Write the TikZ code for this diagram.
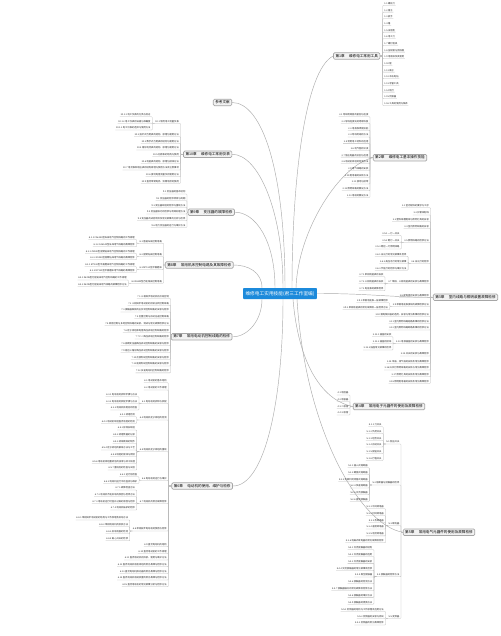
\documentclass[tikz,border=0pt]{standalone}
\usepackage{fontspec}
\newfontfamily\cjk{Noto Sans CJK SC}
\definecolor{mblue}{HTML}{1C8ADB}
\tikzset{
 lf/.style={font=\cjk\fontsize{2.3}{2.6}\selectfont, text=black!85, inner xsep=0.5pt, inner ysep=0.45pt, text height=1.75pt, text depth=0.45pt},
 leafL/.style={lf, anchor=east},
 leafR/.style={lf, anchor=west},
 lk/.style={draw=gray!55, line width=0.3pt, rounded corners=0.7pt},
 cv/.style={draw=gray!65, line width=0.45pt},
 chap/.style={draw=gray!70, line width=0.7pt, fill=gray!10, rounded corners=1.2pt, font=\cjk\fontsize{3.6}{4}\selectfont, inner xsep=2pt, inner ysep=1.5pt, text height=2.9pt, text depth=0.6pt},
 ctr/.style={fill=mblue, text=white, font=\cjk\fontsize{4.7}{5}\selectfont, inner xsep=2.4pt, inner ysep=3pt, text height=4pt, text depth=1pt, rounded corners=0.8pt}
}
\newcommand\myleafL[3]{%
 \coordinate (#1s) at (#2,0 |- #1.west);
 \foreach \py/\tx [count=\k] in {#3}{%
  \node[leafL] (#1-\k) at ([xshift=-1pt]#1s |- 0,\py) {\tx};
  \draw[lk] (#1.west) -- (#1s) |- (#1-\k.south west);}}
\newcommand\myleafR[3]{%
 \coordinate (#1s) at (#2,0 |- #1.east);
 \foreach \py/\tx [count=\k] in {#3}{%
  \node[leafR] (#1-\k) at ([xshift=1pt]#1s |- 0,\py) {\tx};
  \draw[lk] (#1.east) -- (#1s) |- (#1-\k.south east);}}
\newcommand\mysubL[2]{%
 \coordinate (#1s) at ([xshift=-2.5pt]#1.south west);
 \foreach \py/\tx [count=\k] in {#2}{%
  \node[leafL] (#1-\k) at ([xshift=-1pt]#1s |- 0,\py) {\tx};
  \draw[lk] (#1.south west) -- (#1s) |- (#1-\k.south west);}}
\newcommand\gp{\hspace{1.2em}}
\begin{document}
\begin{tikzpicture}[x=1pt,y=-1pt]
\useasboundingbox (0,0) rectangle (500,636);
\fill[white] (0,0) rectangle (500,636);
% central and chapter nodes
\node[ctr] (c) at (280,293.5) {维修电工实用技能(君三工作室编)};
\node[chap] (ref) at (222.5,102.5) {参考文献};
\node[chap] (ch1) at (356.7,56) {第1章\gp 维修电工常用工具};
\node[chap] (ch2) at (400,157.7) {第2章\gp 维修电工基本操作技能};
\node[chap] (ch3) at (465.5,297.3) {第3章\gp 室内线路与照明装置故障检修};
\node[chap] (ch4) at (389,406.5) {第4章\gp 常用电子元器件的使用及故障检修};
\node[chap] (ch5) at (439,532.3) {第5章\gp 常用电气元器件的使用及故障检修};
\node[chap] (ch6) at (202.2,486) {第6章\gp 电动机的使用、维护与检修};
\node[chap] (ch7) at (201.7,336.8) {第7章\gp 常用电动机控制线路的检修};
\node[chap] (ch8) at (199.3,265) {第8章\gp 常用机床控制电路及其故障检修};
\node[chap] (ch9) at (211.3,212.2) {第9章\gp 变压器的故障检修};
\node[chap] (ch10) at (207.7,154.3) {第10章\gp 维修电工常用仪表};
% curves
\draw[cv] ([xshift=12pt]c.north) .. controls (292,180) and (305,70) .. (ch1.west);
\draw[cv] ([xshift=16pt]c.north) .. controls (298,230) and (340,165) .. (ch2.west);
\draw[cv] (c.east) .. controls (370,293.5) and (390,297.3) .. (ch3.west);
\draw[cv] ([xshift=13pt]c.south) .. controls (298,360) and (320,400) .. (ch4.west);
\draw[cv] ([xshift=17pt]c.south) .. controls (305,430) and (360,525) .. (ch5.west);
\draw[cv] ([xshift=5pt]c.north) .. controls (285,170) and (262,102.5) .. (ref.east);
\draw[cv] ([xshift=3pt]c.north) .. controls (283,210) and (258,154.3) .. (ch10.east);
\draw[cv] ([xshift=-5pt]c.north) .. controls (275,240) and (255,212) .. (ch9.east);
\draw[cv] ([xshift=-18pt]c.north) .. controls (262,272) and (248,265) .. (ch8.east);
\draw[cv] ([xshift=-18pt]c.south) .. controls (262,320) and (248,337) .. (ch7.east);
\draw[cv] ([xshift=3pt]c.south) .. controls (283,400) and (265,486) .. (ch6.east);
% chapter 1
\myleafR{ch1}{382.7}{3.7/{1.1 螺丝刀}, 10.4/{1.2 钳子}, 17.0/{1.3 扳手}, 23.7/{1.4 锤}, 30.4/{1.5 试电笔}, 37.0/{1.6 电工刀}, 43.7/{1.7 螺钉旋具}, 50.4/{1.8 压线钳与剥线钳}, 57.0/{1.9 电烙铁及其使用}, 63.7/{1.10 锉}, 70.4/{1.11 凿子}, 77.0/{1.12 冲击电钻}, 83.7/{1.13 弯管工具}, 90.4/{1.14 喷灯}, 97.0/{1.15 顶拔器}, 103.7/{1.16 工具的使用与保养}}
% chapter 2
\myleafL{ch2}{370}{115/{2.1 导线绝缘层的剖削与连接}, 121.7/{2.2 导线连接处的绝缘恢复}, 128.5/{2.3 电烙铁焊接技能}, 135.2/{2.4 导线封端的方法}, 141.9/{2.5 常用电工材料的选用}, 148.6/{2.6 电气图的识读}, 155.4/{2.7 低压电器的识别与选用}, 162.1/{2.8 电动机绕组的检测方法}, 168.8/{2.9 电气线路的安装}, 175.6/{2.10 配电箱的安装方法}, 182.3/{2.11 接地与接零}, 189/{2.12 照明线路的敷设方法}, 195.7/{2.13 电缆的敷设方法}}
% chapter 3
\myleafL{ch3}{430.5}{206/{3.1 室内配线的要求与工序}, 213.3/{3.2 护套线配线}, 220/{3.3 塑料线槽配线与照明灯具的安装}, 226.7/{3.4 室内照明线路的安装}, 240.7/{3.5 照明线路的检修方法}, 261.5/{3.6 日光灯的检修}, 282/{3.7 单相、三相电能表的安装与故障检修}, 296/{3.8 配电盘的安装与故障检修}, 304.5/{3.9 单相电能表接线的故障检修方法}, 315/{3.10 漏电保护器的选用、安装与常见故障的检修方法}, 321.7/{3.11 室内照明线路短路故障的检修方法}, 328.3/{3.12 室内照明线路断路故障的检修方法}, 341.7/{3.13 电源插座的安装与故障检修}, 354.3/{3.14 开关的安装与故障检修}, 361.7/{3.15 吊扇、排气扇的安装及常见故障检修}, 368.3/{3.16 白炽灯照明线路的安装与常见故障检修}, 375/{3.17 照明灯具的安装及常见故障检修}, 381.7/{3.18 照明配电箱的安装及常见故障检修}}
\mysubL{ch3-5}{233.7/{3.5.1 一灯一开关}, 240.7/{3.5.2 两灯一开关}, 247.3/{3.5.3 两控一灯照明线路}}
\mysubL{ch3-6}{254.5/{3.6.1 日光灯的常见故障及检修}, 261.5/{3.6.2 高压汞灯的常见故障}, 268.5/{3.6.3 节能灯的检修与维护方法}}
\mysubL{ch3-7}{275/{3.7.1 单相电能表的安装}, 282/{3.7.2 三相电能表的安装}, 289/{3.7.3 电能表的故障检修}}
\mysubL{ch3-9}{301/{3.9.1 单相电能表一般故障检修}, 308/{3.9.2 单相电能表的常见故障及一般检修方法}}
\mysubL{ch3-13}{335/{3.13.1 插座的安装}, 341.7/{3.13.2 插座的接线}, 348.3/{3.13.3 插座常见故障的检修}}
% chapter 4
\myleafL{ch4}{350}{393.3/{4.1 电阻器}, 400/{4.2 电容器}, 406.7/{4.3 二极管}, 413.3/{4.4 三极管}}
% chapter 5
\myleafL{ch5}{401}{442.3/{5.1 低压开关}, 483.3/{5.2 熔断器与接触器的检修}, 524/{5.3 继电器}, 575/{5.4 接触器的检修方法}, 616.7/{5.5 变频器}}
\mysubL{ch5-1}{425/{5.1.1 刀开关}, 431.7/{5.1.2 负荷开关}, 438.5/{5.1.3 组合开关}, 445.2/{5.1.4 自动开关}, 452/{5.1.5 按钮开关}, 458.7/{5.1.6 行程开关}}
\mysubL{ch5-2}{466/{5.2.1 插入式熔断器}, 472.7/{5.2.2 螺旋式熔断器}, 479.5/{5.2.3 无填料封闭管式熔断器}, 486.2/{5.2.4 快速熔断器}, 493/{5.2.5 交流接触器}, 499.7/{5.2.6 直流接触器}}
\mysubL{ch5-3}{507/{5.3.1 中间继电器}, 513.8/{5.3.2 时间继电器}, 520.5/{5.3.3 热继电器}, 527.3/{5.3.4 速度继电器}, 534.1/{5.3.5 电流继电器}, 541/{5.3.6 电磁式继电器的常见故障及检修}}
\mysubL{ch5-4}{548/{5.4.1 交流接触器的结构}, 554.8/{5.4.2 交流接触器的选用}, 561.6/{5.4.3 交流接触器的安装}, 568.4/{5.4.4 交流接触器的常见故障及检修}, 575.2/{5.4.5 真空接触器}, 582/{5.4.6 接触器的检测方法}, 588.8/{5.4.7 接触器触点的常见故障及检修方法}, 595.6/{5.4.8 接触器的维护方法}, 602.4/{5.4.9 接触器的更换方法}}
\mysubL{ch5-5}{609.7/{5.5.1 变频器的结构与工作原理及选用方法}, 616.7/{5.5.2 变频器的安装与调试}, 623.3/{5.5.3 变频器的常见故障检修}}
% chapter 10
\myleafL{ch10}{180.5}{121.7/{10.1 常用电工测量仪表}, 135/{10.2 指针式万用表的结构、原理与使用方法}, 141.7/{10.3 数字式万用表的结构与使用方法}, 148.3/{10.4 钳形电流表的结构、原理与使用方法}, 155/{10.5 兆欧表的结构与使用}, 161.7/{10.6 电能表的结构、原理与接线方法}, 168.3/{10.7 电流表和电压表的结构原理与使用方法及注意事项}, 175/{10.8 接地电阻测量仪的使用方法}, 181.7/{10.9 直流单臂电桥、双臂电桥的使用}}
\mysubL{ch10-1}{115/{10.1.1 电工仪表的分类与标志}, 121.7/{10.1.2 电工仪表的误差与准确度}, 128.3/{10.1.3 电工仪表的选择与使用方法}}
% chapter 9
\myleafL{ch9}{187}{192.3/{9.1 变压器的基本结构}, 199/{9.2 变压器的检修项目与周期}, 205.7/{9.3 变压器绕组的检修与重绕方法}, 212.3/{9.4 变压器铁芯的检修与绝缘处理方法}, 219/{9.5 变压器的试验项目及常见故障的分析与检修}, 225.7/{9.6 电力变压器的运行与维护方法}}
% chapter 8
\myleafL{ch8}{163.5}{241.4/{8.1 普通车床控制电路}, 254.9/{8.2 摇臂钻床控制电路}, 267.9/{8.3 M7130型平面磨床}, 281.5/{8.4 X62W型万能铣床控制电路}}
\mysubL{ch8-1}{237.7/{8.1.1 CA6140型车床电气控制线路的工作原理}, 245/{8.1.2 CA6140型车床电气线路的故障检修}}
\mysubL{ch8-2}{251.7/{8.2.1 Z3040型摇臂钻床电气控制线路的工作原理}, 258/{8.2.2 Z3040型摇臂钻床电气线路的故障检修}}
\mysubL{ch8-3}{264.7/{8.3.1 M7130型平面磨床电气控制线路的工作原理}, 271/{8.3.2 M7130型平面磨床电气线路的故障检修}}
\mysubL{ch8-4}{278.3/{8.4.1 X62W型万能铣床电气控制线路的工作原理}, 284.7/{8.4.2 X62W型万能铣床电气线路的故障检修方法}}
% chapter 7
\myleafL{ch7}{170.5}{296.7/{7.1 三相异步电动机的点动控制}, 303.5/{7.2 三相异步电动机的自锁正转控制线路}, 310.2/{7.3 接触器联锁的正反转控制线路的安装与检修}, 317/{7.4 位置控制与自动往返控制线路}, 323.7/{7.5 顺序控制与多地控制线路的安装、调试与常见故障检修方法}, 330.5/{7.6 定子绕组串电阻降压启动控制线路的检修}, 337.3/{7.7 Y-△降压启动控制线路的检修}, 344/{7.8 自耦变压器降压启动控制线路的安装与检修}, 350.8/{7.9 延边三角形降压启动控制线路的安装与检修}, 357.5/{7.10 反接制动控制线路的安装与检修}, 364.3/{7.11 能耗制动控制线路的安装与检修}, 371.1/{7.12 多速电动机控制线路的检修}}
% chapter 6
\myleafL{ch6}{168.3}{381/{6.1 电动机的基本结构}, 388.3/{6.2 电动机的工作原理}, 401.7/{6.3 电动机的拆卸与装配}, 418.3/{6.4 电动机定子绕组的检测}, 450/{6.5 电动机定子绕组的重绕}, 478.4/{6.6 电动机的运行与维护}, 501.7/{6.7 电动机的常见故障检修}, 529.3/{6.8 单相异步电动机的使用与检修}, 545/{6.9 直流电动机的结构}, 551.7/{6.10 直流电动机的工作原理}, 558.3/{6.11 直流电动机的拆装、使用与维护方法}, 565/{6.12 直流电动机电枢绕组的常见故障与检修方法}, 571.7/{6.13 直流电动机换向器的常见故障与检修方法}, 578.3/{6.14 直流电动机电刷装置的常见故障与检修方法}, 585/{6.15 直流电动机的常见故障分析与检修方法}}
\mysubL{ch6-3}{395/{6.3.1 电动机的拆卸步骤与方法}, 401.7/{6.3.2 电动机的装配步骤与方法}, 408.3/{6.3.3 电动机装配后的检查}}
\mysubL{ch6-4}{415/{6.4.1 绕组检测}, 421.7/{6.4.2 电动机绕组直流电阻的检测}}
\mysubL{ch6-5}{428.3/{6.5.1 拆除旧绕组}, 435/{6.5.2 绕组数据的记录}, 441.7/{6.5.3 绕线模具的制作}, 448.3/{6.5.4 定子绕组的嵌线方法与工艺}, 455/{6.5.5 绕组的接线与焊接}, 461.7/{6.5.6 电动机绕组重绕后的浸漆与烘干处理}, 468.3/{6.5.7 重绕后的检查与试验}}
\mysubL{ch6-6}{475/{6.6.1 运行前检查}, 481.7/{6.6.2 电动机运行中的监视与维护}}
\mysubL{ch6-7}{488.3/{6.7.1 故障检查方法}, 495/{6.7.2 电动机不能启动的原因与检修方法}, 501.7/{6.7.3 电动机运行时温升过高的原因与检修}, 508.3/{6.7.4 电动机轴承的检修}}
\mysubL{ch6-8}{518.3/{6.8.1 单相异步电动机的结构与工作原理及启动方法}, 525/{6.8.2 单相电动机的拆装方法}, 532/{6.8.3 启动电容的检测}, 539/{6.8.4 离心开关的检修}}
\end{tikzpicture}
\end{document}
